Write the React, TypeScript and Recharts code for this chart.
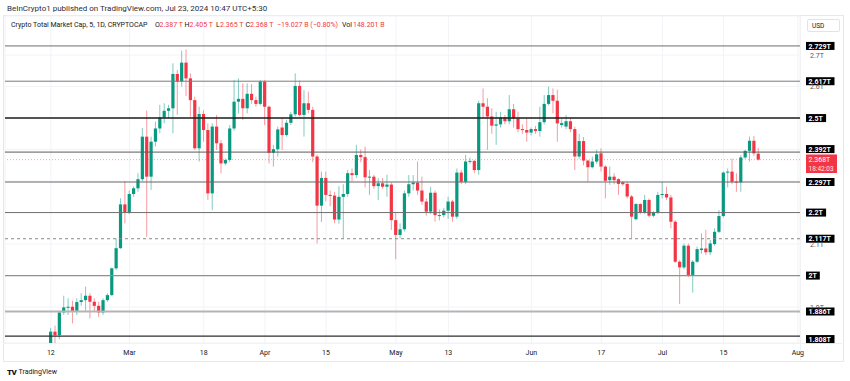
import React from 'react';
import { ComposedChart, Bar, XAxis, YAxis, CartesianGrid, ReferenceLine } from 'recharts';

const FONT = 'Roboto, "Liberation Sans", Arial, sans-serif';
const GREEN = '#089981';
const RED = '#f23645';

// ---------- categories ----------
const firstSlotDate = '2024-02-02'; // empty slots before first candle
const slotCount = 182; // through 2024-08-01
const firstCandleDate = '2024-02-12';

// ---------- series (trillions USD), Feb 12 .. Jul 23 ----------
const opens = [
  // Feb 12-29
  1.786, 1.822, 1.811, 1.883, 1.899, 1.901, 1.888, 1.916, 1.922, 1.936, 1.917, 1.904, 1.883, 1.922, 1.938, 2.023, 2.087, 2.226,
  // Mar
  2.201, 2.259, 2.277, 2.306, 2.441, 2.314, 2.425, 2.467, 2.502, 2.523, 2.531, 2.640, 2.616, 2.676, 2.626, 2.557, 2.404, 2.513,
  2.462, 2.261, 2.473, 2.420, 2.356, 2.367, 2.467, 2.552, 2.561, 2.531, 2.577, 2.557, 2.545,
  // Apr
  2.616, 2.536, 2.390, 2.401, 2.470, 2.446, 2.485, 2.512, 2.602, 2.510, 2.547, 2.526, 2.378, 2.222, 2.310, 2.256, 2.254, 2.178,
  2.250, 2.259, 2.325, 2.319, 2.383, 2.376, 2.312, 2.314, 2.284, 2.293, 2.282, 2.289,
  // May
  2.176, 2.129, 2.147, 2.261, 2.290, 2.295, 2.270, 2.235, 2.203, 2.263, 2.190, 2.192, 2.206, 2.235, 2.187, 2.327, 2.298, 2.362,
  2.364, 2.335, 2.547, 2.536, 2.505, 2.476, 2.480, 2.502, 2.490, 2.528, 2.499, 2.465, 2.462,
  // Jun
  2.454, 2.465, 2.459, 2.487, 2.545, 2.573, 2.555, 2.478, 2.473, 2.490, 2.465, 2.378, 2.427, 2.365, 2.344, 2.362, 2.388, 2.346,
  2.303, 2.314, 2.306, 2.296, 2.291, 2.251, 2.179, 2.227, 2.201, 2.240, 2.190, 2.201,
  // Jul 1-23
  2.256, 2.259, 2.248, 2.171, 2.044, 2.026, 2.095, 2.002, 2.044, 2.081, 2.086, 2.074, 2.100, 2.139, 2.189, 2.327, 2.330, 2.298,
  2.296, 2.375, 2.396, 2.428, 2.387,
];
const highs = [
  1.834, 1.841, 1.886, 1.936, 1.928, 1.920, 1.928, 1.944, 1.965, 1.944, 1.928, 1.917, 1.928, 1.944, 2.025, 2.118, 2.245, 2.300,
  2.270, 2.283, 2.325, 2.468, 2.524, 2.441, 2.489, 2.542, 2.547, 2.542, 2.674, 2.653, 2.714, 2.718, 2.642, 2.568, 2.536, 2.525,
  2.483, 2.483, 2.510, 2.430, 2.372, 2.478, 2.621, 2.626, 2.610, 2.610, 2.608, 2.568, 2.621,
  2.621, 2.540, 2.415, 2.473, 2.499, 2.494, 2.520, 2.642, 2.619, 2.589, 2.584, 2.536, 2.384, 2.330, 2.330, 2.270, 2.265, 2.284,
  2.290, 2.335, 2.340, 2.415, 2.400, 2.409, 2.335, 2.320, 2.309, 2.310, 2.320, 2.295,
  2.200, 2.166, 2.270, 2.319, 2.319, 2.362, 2.314, 2.245, 2.282, 2.270, 2.210, 2.215, 2.250, 2.240, 2.340, 2.335, 2.383, 2.375,
  2.367, 2.555, 2.594, 2.563, 2.531, 2.520, 2.520, 2.510, 2.573, 2.545, 2.520, 2.480, 2.499,
  2.470, 2.475, 2.536, 2.573, 2.600, 2.594, 2.590, 2.497, 2.510, 2.500, 2.473, 2.450, 2.440, 2.367, 2.378, 2.399, 2.404, 2.350,
  2.346, 2.325, 2.309, 2.300, 2.298, 2.256, 2.230, 2.230, 2.256, 2.245, 2.205, 2.266,
  2.298, 2.282, 2.256, 2.176, 2.049, 2.102, 2.102, 2.049, 2.092, 2.134, 2.145, 2.113, 2.150, 2.208, 2.330, 2.340, 2.372, 2.325,
  2.383, 2.399, 2.441, 2.443, 2.405,
];
const lows = [
  1.785, 1.786, 1.798, 1.875, 1.875, 1.848, 1.875, 1.904, 1.885, 1.864, 1.885, 1.869, 1.875, 1.917, 1.936, 2.018, 2.085, 2.166,
  2.195, 2.250, 2.266, 2.300, 2.123, 2.272, 2.410, 2.452, 2.483, 2.499, 2.452, 2.510, 2.600, 2.570, 2.504, 2.399, 2.362, 2.425,
  2.240, 2.208, 2.399, 2.325, 2.350, 2.360, 2.460, 2.515, 2.494, 2.515, 2.545, 2.536, 2.540,
  2.478, 2.356, 2.346, 2.378, 2.399, 2.441, 2.478, 2.505, 2.505, 2.441, 2.515, 2.360, 2.102, 2.170, 2.236, 2.220, 2.166, 2.165,
  2.118, 2.250, 2.300, 2.310, 2.360, 2.280, 2.256, 2.275, 2.240, 2.275, 2.250, 2.145,
  2.052, 2.118, 2.140, 2.250, 2.270, 2.256, 2.225, 2.190, 2.195, 2.171, 2.175, 2.185, 2.180, 2.171, 2.180, 2.290, 2.290, 2.355,
  2.325, 2.320, 2.500, 2.399, 2.450, 2.415, 2.470, 2.480, 2.480, 2.470, 2.455, 2.450, 2.425,
  2.445, 2.450, 2.441, 2.480, 2.540, 2.515, 2.425, 2.470, 2.465, 2.455, 2.335, 2.370, 2.350, 2.298, 2.340, 2.355, 2.330, 2.245,
  2.288, 2.290, 2.256, 2.285, 2.245, 2.118, 2.175, 2.195, 2.195, 2.185, 2.185, 2.195,
  2.245, 2.240, 2.150, 2.040, 1.910, 2.020, 1.995, 1.946, 2.040, 2.070, 2.065, 2.065, 2.095, 2.135, 2.185, 2.280, 2.290, 2.266,
  2.266, 2.370, 2.362, 2.380, 2.365,
];
const closes = [
  1.822, 1.811, 1.883, 1.899, 1.901, 1.888, 1.916, 1.922, 1.936, 1.917, 1.904, 1.883, 1.922, 1.938, 2.023, 2.087, 2.226, 2.201,
  2.259, 2.277, 2.306, 2.441, 2.314, 2.425, 2.467, 2.502, 2.523, 2.531, 2.640, 2.616, 2.676, 2.626, 2.557, 2.404, 2.513, 2.462,
  2.261, 2.473, 2.420, 2.356, 2.367, 2.467, 2.552, 2.561, 2.531, 2.577, 2.557, 2.545, 2.616,
  2.536, 2.390, 2.401, 2.464, 2.446, 2.485, 2.512, 2.602, 2.510, 2.547, 2.526, 2.378, 2.222, 2.310, 2.256, 2.254, 2.178, 2.250,
  2.259, 2.325, 2.319, 2.383, 2.376, 2.312, 2.314, 2.284, 2.293, 2.282, 2.289, 2.176,
  2.129, 2.147, 2.261, 2.290, 2.295, 2.270, 2.235, 2.203, 2.263, 2.192, 2.192, 2.206, 2.235, 2.187, 2.327, 2.298, 2.362, 2.364,
  2.335, 2.547, 2.536, 2.505, 2.476, 2.480, 2.502, 2.490, 2.528, 2.499, 2.465, 2.462, 2.454,
  2.465, 2.459, 2.487, 2.545, 2.573, 2.555, 2.483, 2.484, 2.490, 2.465, 2.378, 2.427, 2.365, 2.344, 2.362, 2.385, 2.346, 2.301,
  2.314, 2.303, 2.291, 2.290, 2.251, 2.187, 2.227, 2.201, 2.240, 2.190, 2.200, 2.256,
  2.259, 2.248, 2.171, 2.044, 2.026, 2.095, 2.002, 2.044, 2.084, 2.086, 2.074, 2.102, 2.139, 2.189, 2.327, 2.330, 2.298, 2.296,
  2.375, 2.396, 2.428, 2.388, 2.368,
];

// ---------- ticks ----------
const priceTicks = [1.9, 2.0, 2.1, 2.2, 2.3, 2.4, 2.5, 2.6, 2.7];
const visiblePriceTickLabels = [1.9, 2.1, 2.6, 2.7]; // the rest sit under the level tags
const timeTickDates = ['2024-02-12', '2024-03-01', '2024-03-18', '2024-04-01', '2024-04-15', '2024-05-01', '2024-05-13', '2024-06-01', '2024-06-17', '2024-07-01', '2024-07-15', '2024-08-01'];
const timeTickLabels = ['12', 'Mar', '18', 'Apr', '15', 'May', '13', 'Jun', '17', 'Jul', '15', 'Aug'];

// ---------- horizontal levels ----------
const levels = [2.729, 2.617, 2.5, 2.392, 2.297, 2.2, 2.117, 2.0, 1.886, 1.808];
const levelLabels = ['2.729T', '2.617T', '2.5T', '2.392T', '2.297T', '2.2T', '2.117T', '2T', '1.886T', '1.808T'];
const lastPrice = 2.368;
const lastPriceLabel = '2.368T';
const countdownLabel = '18:42:03';

// styles (kept separate from data)
const levelStyles = [
  { stroke: '#6e6e6e', w: 1, dash: undefined as string | undefined, dy: 0 },
  { stroke: '#7a7a7a', w: 1, dash: undefined, dy: 0 },
  { stroke: '#1c1c1c', w: 1.4, dash: undefined, dy: 0 },
  { stroke: '#595959', w: 1, dash: undefined, dy: -3 },
  { stroke: '#686868', w: 1, dash: undefined, dy: 0 },
  { stroke: '#6e6e6e', w: 1, dash: undefined, dy: 0 },
  { stroke: '#8a8a8a', w: 1, dash: '3 3', dy: 0 },
  { stroke: '#909090', w: 1.3, dash: undefined, dy: 0 },
  { stroke: '#b4b4b4', w: 2, dash: undefined, dy: 0 },
  { stroke: '#2e2e2e', w: 1.3, dash: undefined, dy: 3 },
];

const DAY = 86400000;
const isoDay = (t: number) => new Date(t).toISOString().slice(0, 10);
const slot0 = Date.parse(firstSlotDate + 'T00:00:00Z');
const lead = Math.round((Date.parse(firstCandleDate + 'T00:00:00Z') - slot0) / DAY);

const data = Array.from({ length: slotCount }, (_, j) => {
  const d = isoDay(slot0 + j * DAY);
  const i = j - lead;
  if (i >= 0 && i < opens.length) {
    return { d, o: opens[i], h: highs[i], l: lows[i], c: closes[i], range: [lows[i], highs[i]] };
  }
  return { d };
});

const tickLabelMap: Record<string, string> = {};
timeTickDates.forEach((d, k) => (tickLabelMap[d] = timeTickLabels[k]));

function Candle(props: any) {
  const { x, y, width, height, payload } = props;
  if (!payload || payload.o == null) return null;
  const { o, h, l, c } = payload;
  const top = Math.min(y, y + height);
  const hh = Math.abs(height);
  const k = h - l > 0 ? hh / (h - l) : 0;
  const cx = x + width / 2;
  const color = c >= o ? GREEN : RED;
  const b1 = top + (h - Math.max(o, c)) * k;
  const b2 = top + (h - Math.min(o, c)) * k;
  return (
    <g>
      <line x1={cx} x2={cx} y1={top} y2={top + hh} stroke={color} strokeOpacity={0.5} strokeWidth={1} />
      <rect x={cx - 1.6} y={b1} width={3.2} height={Math.max(1, b2 - b1)} fill={color} />
    </g>
  );
}

const charW = (ch: string) => (ch === '.' ? 2.1 : ch === 'T' ? 4.6 : 4.2);
const textW = (s: string) => s.split('').reduce((a, ch) => a + charW(ch), 0);

function LevelLabel({ viewBox, text, dy }: any) {
  if (!viewBox) return null;
  const right = viewBox.x + viewBox.width;
  const cy = viewBox.y + dy;
  const w = textW(text) + 5;
  return (
    <g>
      <rect x={right + 6} y={cy - 4} width={w} height={8} fill="#000" />
      <text x={right + 8.5} y={cy + 2.6} fill="#fff" fontSize={7} fontWeight="bold" fontFamily={FONT}>
        {text}
      </text>
    </g>
  );
}

function LastLabel({ viewBox }: any) {
  if (!viewBox) return null;
  const right = viewBox.x + viewBox.width;
  const top = 154.5;
  return (
    <g>
      <rect x={right + 6} y={top} width={31} height={18.5} fill={RED} />
      <text x={right + 8.5} y={top + 7.5} fill="#fff" fontSize={7} fontFamily={FONT}>
        {lastPriceLabel}
      </text>
      <text x={right + 8.5} y={top + 16} fill="#ffe3e6" fontSize={6.5} fontFamily={FONT}>
        {countdownLabel}
      </text>
    </g>
  );
}

const XTick = ({ x, payload }: any) => (
  <text x={x} y={354.5} textAnchor="middle" fontSize={7} fill="#131722" fontFamily={FONT}>
    {tickLabelMap[payload.value] ?? ''}
  </text>
);

const fmtT = (v: number) => {
  const s = v.toFixed(1);
  return (s.endsWith('.0') ? s.slice(0, -2) : s) + 'T';
};

const YTick = ({ y, payload }: any) =>
  visiblePriceTickLabels.some((v) => Math.abs(v - payload.value) < 1e-6) ? (
    <text x={810} y={y + 2.5} fontSize={7} fill="#555" fontFamily={FONT}>
      {fmtT(payload.value)}
    </text>
  ) : (
    <g />
  );

const abs = (left: number, top: number, extra: React.CSSProperties = {}): React.CSSProperties => ({
  position: 'absolute',
  left,
  top,
  fontSize: 7,
  lineHeight: '9px',
  whiteSpace: 'nowrap',
  fontFamily: FONT,
  color: '#131722',
  ...extra,
});

export default function App() {
  return (
    <div style={{ position: 'absolute', left: 0, top: 0, width: 850, height: 381, background: '#fff', overflow: 'hidden' }}>
      {/* pane frame */}
      <div style={{ position: 'absolute', left: 3, top: 15, width: 839, height: 345, border: '1px solid #e6e8ee' }} />
      <div style={{ position: 'absolute', left: 800, top: 16, width: 1, height: 344, background: '#eef0f4' }} />
      <div style={{ position: 'absolute', left: 4, top: 343, width: 838, height: 1, background: '#eef0f4' }} />

      <div style={{ position: 'absolute', left: 0, top: 0 }}>
        <ComposedChart width={850} height={381} data={data} margin={{ top: 16, right: 7, bottom: 20, left: 5 }}>
          <CartesianGrid stroke="#f1f3f7" strokeWidth={1} />
          <XAxis
            dataKey="d"
            type="category"
            ticks={timeTickDates}
            interval={0}
            height={18}
            axisLine={false}
            tickLine={false}
            tick={<XTick />}
          />
          <YAxis
            orientation="right"
            type="number"
            domain={[1.786, 2.824]}
            allowDataOverflow
            ticks={priceTicks}
            width={43}
            axisLine={false}
            tickLine={false}
            tick={<YTick />}
          />
          <Bar dataKey="range" shape={<Candle />} isAnimationActive={false} />
          <ReferenceLine
            y={lastPrice}
            stroke={RED}
            strokeOpacity={0.45}
            strokeDasharray="1 2"
            label={(p: any) => <LastLabel viewBox={p.viewBox} />}
          />
          {levels.map((v, k) => (
            <ReferenceLine
              key={k}
              y={v}
              stroke={levelStyles[k].stroke}
              strokeWidth={levelStyles[k].w}
              strokeDasharray={levelStyles[k].dash}
              label={(p: any) => <LevelLabel viewBox={p.viewBox} text={levelLabels[k]} dy={levelStyles[k].dy} />}
            />
          ))}
        </ComposedChart>
      </div>

      {/* header */}
      <div style={abs(7, 4, { color: '#2a2e39', fontSize: 8 })}>BeInCrypto1 published on TradingView.com, Jul 23, 2024 10:47 UTC+5:30</div>
      <div style={abs(11, 20.5)}>Crypto Total Market Cap, 5, 1D, CRYPTOCAP</div>
      <div style={abs(155, 20.5)}>O</div>
      <div style={abs(159.5, 20.5, { color: RED })}>2.387 T</div>
      <div style={abs(184.5, 20.5)}>H</div>
      <div style={abs(189.5, 20.5, { color: RED })}>2.405 T</div>
      <div style={abs(216, 20.5)}>L</div>
      <div style={abs(220, 20.5, { color: RED })}>2.365 T</div>
      <div style={abs(245.5, 20.5)}>C</div>
      <div style={abs(250, 20.5, { color: RED })}>2.368 T</div>
      <div style={abs(277, 20.5, { color: RED })}>−19.027 B (−0.80%)</div>
      <div style={abs(342, 20.5)}>Vol</div>
      <div style={abs(353, 20.5, { color: RED })}>148.201 B</div>

      {/* USD box */}
      <div
        style={{
          position: 'absolute',
          left: 807,
          top: 19,
          width: 33,
          height: 13,
          border: '1px solid #e0e3eb',
          borderRadius: 2,
          background: '#fff',
          fontFamily: FONT,
          fontSize: 6.5,
          lineHeight: '13px',
          paddingLeft: 4,
          boxSizing: 'border-box',
          color: '#131722',
        }}
      >
        USD
      </div>

      {/* logo */}
      <div style={abs(7, 367.5, { fontSize: 8, fontWeight: 900, letterSpacing: -0.5, lineHeight: '10px' })}>TV</div>
      <div style={abs(18.5, 368, { fontSize: 7, color: '#131722' })}>TradingView</div>
    </div>
  );
}
